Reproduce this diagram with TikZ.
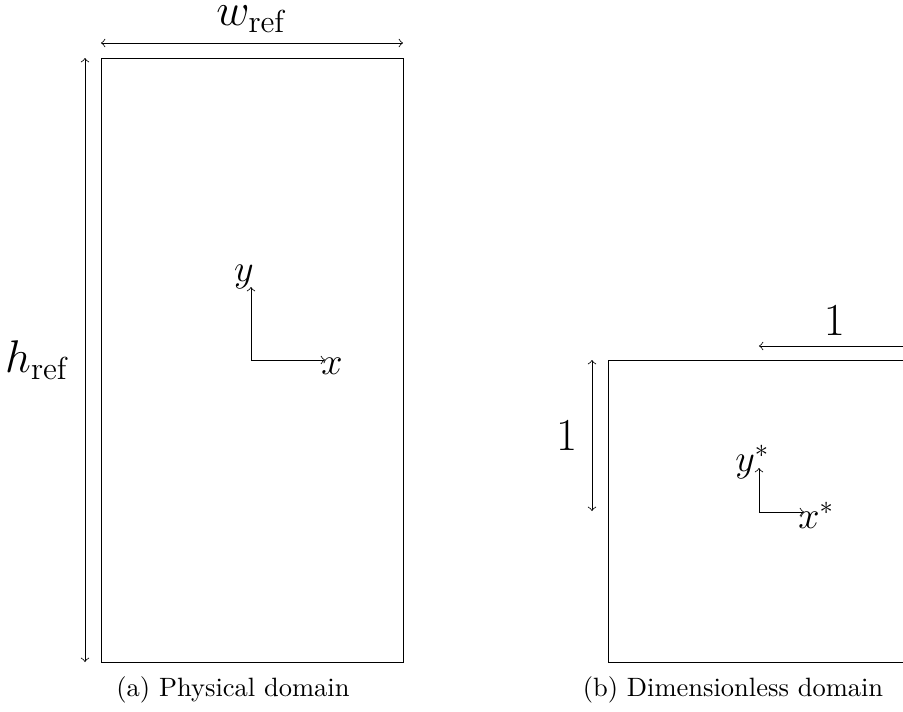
\documentclass[tikz,border=0pt]{standalone}
\usetikzlibrary{positioning}

\begin{document}
\begin{tikzpicture}[x=0.3774pt, y=0.3774pt, line width=0.3pt,
  dimlabel/.style={font=\fontsize{16.5}{20}\selectfont, inner sep=0pt},
  axlabel/.style={font=\Large, inner sep=0pt},
  caption/.style={inner sep=0pt, anchor=base}]
\clip (0,0) rectangle (903,711);

% (a) physical domain
\draw (101,49) rectangle (403,653);
\coordinate (wl) at (101,668);
\coordinate (wr) at (403,668);
\coordinate (hb) at (85,49);
\coordinate (ht) at (85,653);
\draw[<->] (wl) -- (wr) node[midway, above=3.7pt, dimlabel] (wlab) {$w_{\mathrm{ref}}$};
\draw[<->] (hb) -- (ht) node[midway, left=5.5pt, dimlabel] (hlab) {$h_{\mathrm{ref}}$};

\coordinate (oa) at (251,351);
\draw[->] (oa) -- ++(74,0) coordinate (xa);
\draw[->] (oa) -- ++(0,73) coordinate (ya);
\node[axlabel, anchor=base west] (xalab) at (321,337) {$x$};
\node[axlabel, anchor=base] (yalab) at (244,430) {$y$};

\node[caption] (capa) at (233,15) {(a) Physical domain};

% (b) dimensionless domain
\draw (608,49) rectangle (910,351);
\coordinate (re) at (910,365);
\coordinate (ce) at (759,365);
\coordinate (tp) at (592,351);
\coordinate (md) at (592,200);
\draw[<->] (ce) -- (re) node[midway, above=3.7pt, dimlabel] (onex) {$1$};
\draw[<->] (tp) -- (md) node[midway, left=5.5pt, dimlabel] (oney) {$1$};

\coordinate (ob) at (759,199);
\draw[->] (ob) -- ++(45,0) coordinate (xb);
\draw[->] (ob) -- ++(0,44) coordinate (yb);
\node[axlabel, anchor=base west] (xblab) at (798,183) {$x^*$};
\node[axlabel, anchor=base west] (yblab) at (735,240) {$y^*$};

\node[caption] (capb) at (733,15) {(b) Dimensionless domain};
\end{tikzpicture}
\end{document}
